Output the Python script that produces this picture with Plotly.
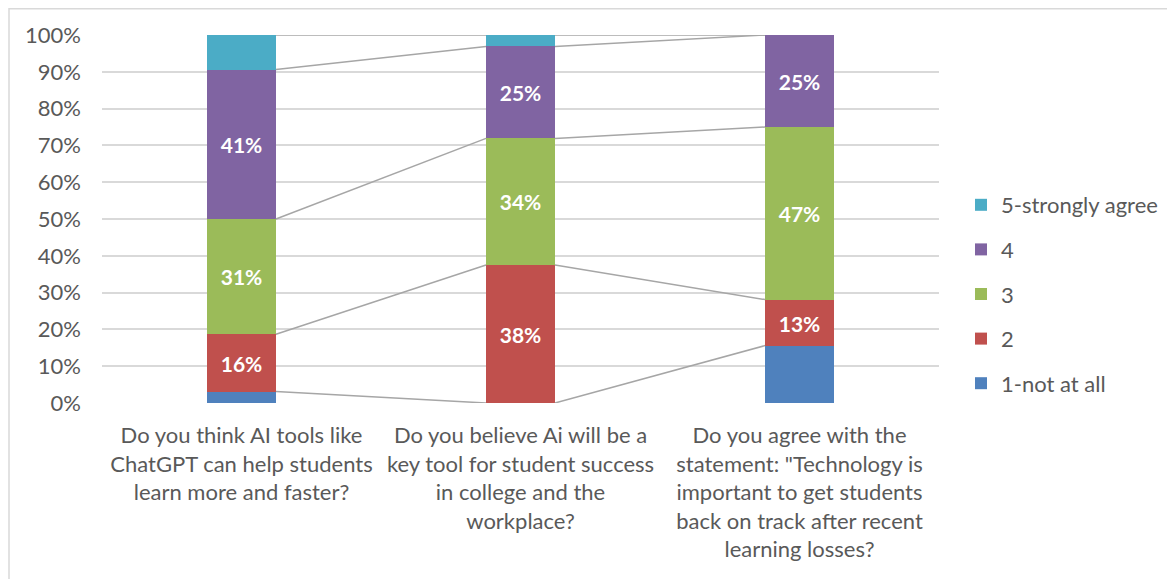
import plotly.graph_objects as go

categories = [
    "Do you think AI tools like<br>ChatGPT can help students<br>learn more and faster?",
    "Do you believe Ai will be a<br>key tool for student success<br>in college and the<br>workplace?",
    "Do you agree with the<br>statement: \"Technology is<br>important to get students<br>back on track after recent<br>learning losses?",
]
series_names = ["1-not at all", "2", "3", "4", "5-strongly agree"]
s1 = [3.1, 0.0, 15.6]
s2 = [15.6, 37.5, 12.5]
s3 = [31.3, 34.4, 46.9]
s4 = [40.6, 25.0, 25.0]
s5 = [9.4, 3.1, 0.0]
series_values = [s1, s2, s3, s4, s5]
series_colors = ["#4F81BD", "#C0504D", "#9BBB59", "#8064A2", "#4BACC6"]
labelled = [False, True, True, True, False]
y_ticks = list(range(0, 101, 10))
y_ticktext = [f"{v}%" for v in y_ticks]

FONT = "Lato"
TXT = "#595959"
W = 0.247
xs = list(range(len(categories)))

# page is drawn with an 8px body margin: work in figure pixels
OFF = 8
FW, FH = 1175 - OFF, 579 - OFF

fig = go.Figure()
n = len(series_names)
for k, (name, vals, col, lab) in enumerate(zip(series_names, series_values, series_colors, labelled)):
    fig.add_trace(go.Bar(
        x=xs, y=vals, name=name, width=W,
        marker=dict(color=col, line=dict(width=0)),
        texttemplate="%{y:.0f}%" if lab else None,
        textposition="inside" if lab else "none",
        insidetextanchor="middle", textangle=0,
        textfont=dict(family=FONT, size=21, color="white", weight="bold"),
        legendgroup=name, legendrank=100 + (n - k), hoverinfo="skip",
    ))

# series lines connecting cumulative stack tops
lx, ly = [], []
cum = [0.0] * len(categories)
for vals in series_values:
    cum = [c + v for c, v in zip(cum, vals)]
    for i in range(len(categories) - 1):
        lx += [xs[i] + W / 2, xs[i + 1] - W / 2, None]
        ly += [cum[i], cum[i + 1], None]
fig.add_trace(go.Scatter(x=lx, y=ly, mode="lines", showlegend=False,
                         line=dict(color="#A6A6A6", width=1.5), hoverinfo="skip"))

L, R, T, B = 102 - OFF, 939 - OFF, 35 - OFF, 403 - OFF
PW, PH = R - L, B - T
def px(x): return (x - OFF - L) / PW      # page px -> paper x
def py(y): return (B - (y - OFF)) / PH    # page px -> paper y

fig.update_layout(
    width=FW, height=FH,
    margin=dict(l=L, r=FW - R, t=T, b=FH - B, autoexpand=False),
    barmode="stack", bargap=0,
    paper_bgcolor="white", plot_bgcolor="white",
    font=dict(family=FONT, size=22, color=TXT),
    legend=dict(x=px(961), y=py(294), xanchor="left", yanchor="middle",
                traceorder="grouped", tracegroupgap=13,
                font=dict(family=FONT, size=22, color=TXT),
                itemwidth=30, bgcolor="rgba(0,0,0,0)"),
    xaxis=dict(range=[-0.5, 2.5], tickvals=xs, ticktext=categories,
               showgrid=False, zeroline=False, showline=False, ticks="",
               tickfont=dict(family=FONT, size=22, color=TXT),
               ticklabelstandoff=17, automargin=False),
    yaxis=dict(range=[0, 100], tickvals=y_ticks, ticktext=y_ticktext,
               showgrid=True, gridcolor="#D9D9D9", gridwidth=2,
               zeroline=False, showline=False, ticks="",
               tickfont=dict(family=FONT, size=22, color=TXT),
               ticklabelstandoff=20, automargin=False),
    shapes=[dict(type="rect", xref="paper", yref="paper",
                 x0=px(9), x1=px(1200), y0=py(8.8), y1=py(620),
                 line=dict(color="#D9D9D9", width=1.5), layer="below")],
)

fig.write_html("out.html")
